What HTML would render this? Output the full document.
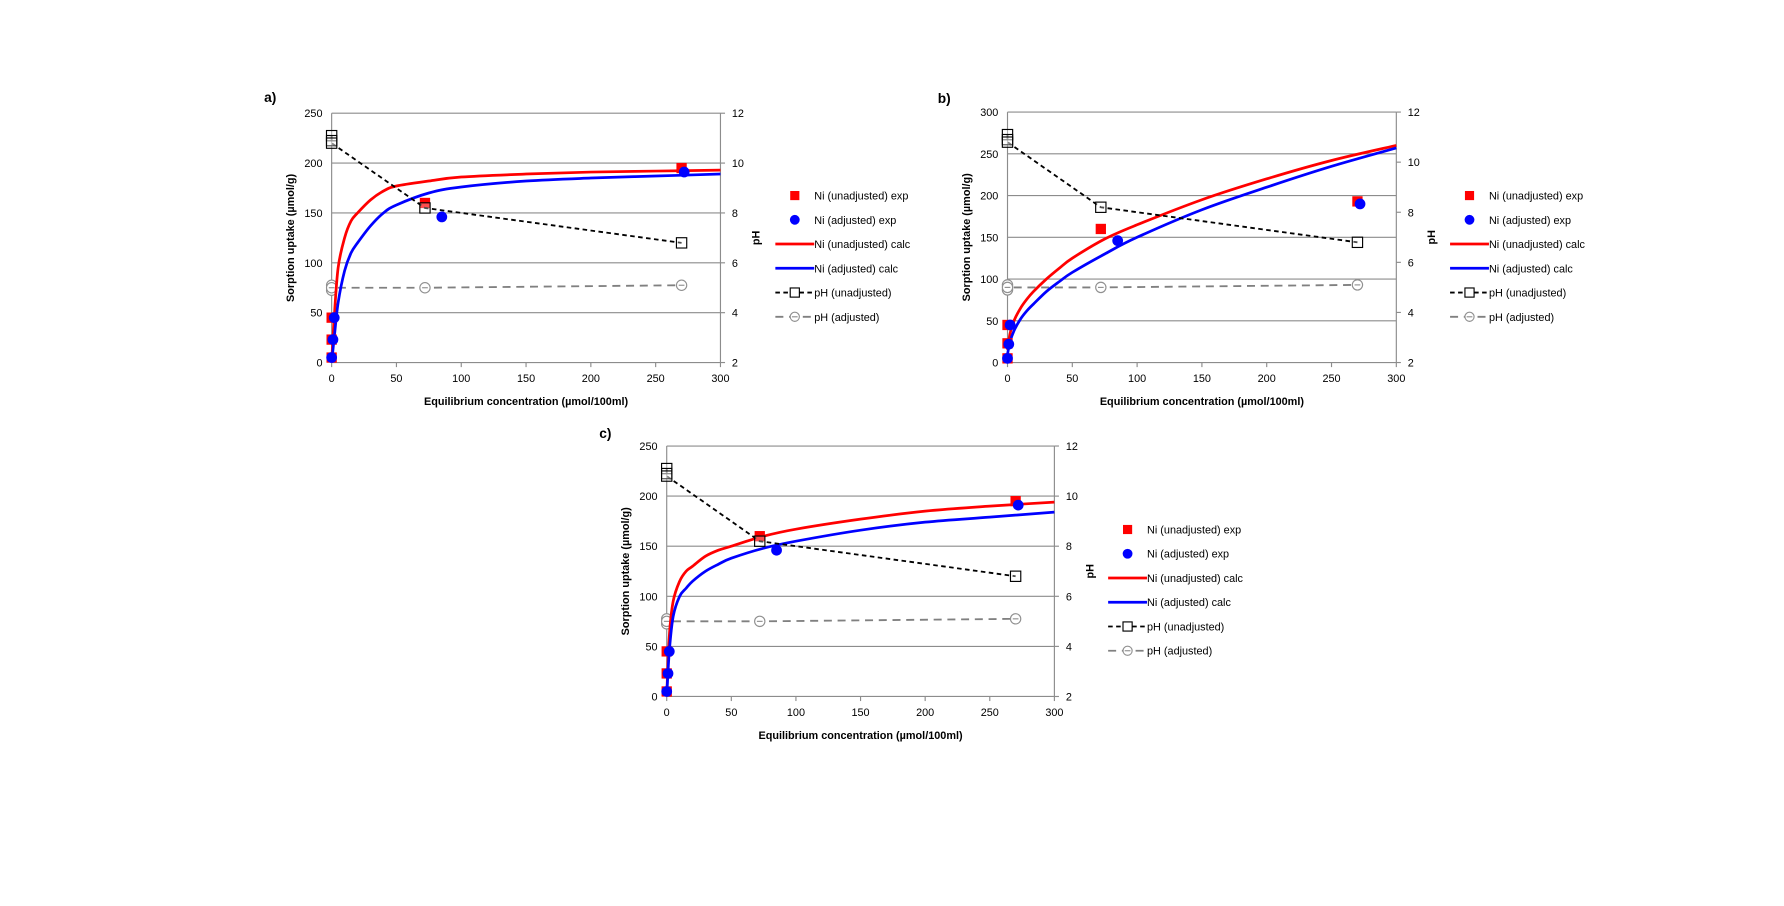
<!DOCTYPE html>
<html><head><meta charset="utf-8"><style>
html,body{margin:0;padding:0;background:#fff}
svg{display:block}
text{font-family:"Liberation Sans",sans-serif;fill:#000}
</style></head><body>
<svg id="fig" width="1784" height="906" viewBox="0 0 1560 792.2" preserveAspectRatio="none" xmlns="http://www.w3.org/2000/svg"></svg>
<script>
// ---- data (shared measured points) ----
const expX_unadj = [0, 0, 0, 72, 270];
const expX_adj = [0, 1, 2, 85, 272];
const pHX_unadj = [0, 0, 0, 72, 270];
const pHY_unadj = [11.1, 10.9, 10.8, 8.2, 6.8];
const pHX_adj = [0, 0, 0, 72, 270];
const pHY_adj = [5.1, 4.9, 5.0, 5.0, 5.1];
const xTicks = [0, 50, 100, 150, 200, 250, 300];
const pHTicks = [2, 4, 6, 8, 10, 12];
const calcX = [0, 2, 5, 10, 15, 20, 30, 40, 50, 75, 100, 150, 200, 250, 300];
// chart a
const aYTicks = [0, 50, 100, 150, 200, 250];
const aExpUnadj = [5, 23, 45, 160, 195];
const aExpAdj = [5, 23, 45, 146, 191];
const aCalcUnadj = [0, 45, 95, 125, 142, 150, 163, 172, 177, 182, 186, 189, 191, 192, 193];
const aCalcAdj = [0, 25, 60, 92, 110, 120, 137, 150, 158, 170, 176, 182, 185, 187, 189];
// chart b
const bYTicks = [0, 50, 100, 150, 200, 250, 300];
const bExpUnadj = [5, 23, 45, 160, 193];
const bExpAdj = [5, 22, 45, 146, 190];
const bCalcUnadj = [15, 35, 50, 65, 76, 85, 100, 113, 125, 148, 165, 195, 220, 242, 260];
const bCalcAdj = [10, 25, 38, 52, 62, 70, 85, 97, 108, 130, 150, 183, 210, 235, 257];
// chart c
const cYTicks = [0, 50, 100, 150, 200, 250];
const cExpUnadj = [5, 23, 45, 160, 195];
const cExpAdj = [5, 23, 45, 146, 191];
const cCalcUnadj = [0, 60, 95, 115, 125, 130, 140, 146, 150, 160, 167, 177, 185, 190, 194];
const cCalcAdj = [0, 45, 80, 100, 108, 115, 125, 132, 138, 148, 155, 166, 174, 179, 184];

const NS = "http://www.w3.org/2000/svg";
const svg = document.getElementById('fig');
function el(tag, attrs, parent, txt) {
  const e = document.createElementNS(NS, tag);
  for (const k in attrs) e.setAttribute(k, attrs[k]);
  if (txt !== undefined) e.textContent = txt;
  (parent || svg).appendChild(e);
  return e;
}
function smooth(pts) {
  let d = 'M' + pts[0][0] + ',' + pts[0][1];
  for (let i = 0; i < pts.length - 1; i++) {
    const p0 = pts[Math.max(0, i - 1)], p1 = pts[i], p2 = pts[i + 1], p3 = pts[Math.min(pts.length - 1, i + 2)];
    const c1x = p1[0] + (p2[0] - p0[0]) / 6, c1y = p1[1] + (p2[1] - p0[1]) / 6;
    const c2x = p2[0] - (p3[0] - p1[0]) / 6, c2y = p2[1] - (p3[1] - p1[1]) / 6;
    d += ` C${c1x},${c1y} ${c2x},${c2y} ${p2[0]},${p2[1]}`;
  }
  return d;
}

function chart(id, cfg, yTicks, expU, expA, calcU, calcA) {
  const g = el('g', {}, svg);
  
  
  const {x0, x1, y0, y1} = cfg;
  const yMax = yTicks[yTicks.length - 1];
  const X = v => x0 + (v / 300) * (x1 - x0);
  const Y = v => y0 - (v / yMax) * (y0 - y1);
  const P = v => y0 - ((v - 2) / 10) * (y0 - y1);

  const lab = el('text', {x: cfg.lx, y: cfg.ly, 'font-size': 12, 'font-weight': 'bold'}, g, id + ')');
  
  

  yTicks.forEach(t => {
    const gl = el('line', {x1: x0, x2: x1, y1: Y(t), y2: Y(t), stroke: '#8c8c8c', 'stroke-width': 1}, g);
    
    
    const tl = el('text', {x: x0 - 8, y: Y(t) + 3.5, 'font-size': 9.5, 'text-anchor': 'end'}, g, t);
    
    
  });
  el('line', {x1: x0, x2: x0, y1: y1, y2: y0, stroke: '#8c8c8c'}, g);
  const ra = el('line', {x1: x1, x2: x1, y1: y1, y2: y0, stroke: '#8c8c8c'}, g);
  
  
  pHTicks.forEach(t => {
    el('line', {x1: x1, x2: x1 + 4, y1: P(t), y2: P(t), stroke: '#8c8c8c'}, g);
    const tl = el('text', {x: x1 + 10, y: P(t) + 3.5, 'font-size': 9.5}, g, t);
    
    
  });
  xTicks.forEach(t => {
    el('line', {x1: X(t), x2: X(t), y1: y0, y2: y0 + 4, stroke: '#8c8c8c'}, g);
    const tl = el('text', {x: X(t), y: y0 + 17, 'font-size': 9.5, 'text-anchor': 'middle'}, g, t);
    
    
  });
  const xt = el('text', {x: (x0 + x1) / 2, y: y0 + 37, 'font-size': 9.5, 'font-weight': 'bold', 'text-anchor': 'middle'}, g, 'Equilibrium concentration (µmol/100ml)');
  
  
  const yc = (y0 + y1) / 2;
  const yt = el('text', {x: 0, y: 0, 'font-size': 9.5, 'font-weight': 'bold', 'text-anchor': 'middle', transform: `translate(${x0 - 33},${yc}) rotate(-90)`}, g, 'Sorption uptake (µmol/g)');
  
  
  const pt = el('text', {x: 0, y: 0, 'font-size': 9.5, 'font-weight': 'bold', 'text-anchor': 'middle', transform: `translate(${x1 + 34},${yc}) rotate(-90)`}, g, 'pH');
  
  

  const pa = el('polyline', {points: pHX_adj.map((x, i) => X(x) + ',' + P(pHY_adj[i])).join(' '), fill: 'none', stroke: '#808080', 'stroke-width': 1.6, 'stroke-dasharray': '7,5'}, g);
  
  
  pHX_adj.forEach((x, i) => {
    const c = el('circle', {cx: X(x), cy: P(pHY_adj[i]), r: 4.5, fill: '#fff', stroke: '#909090', 'stroke-width': 1}, g);
    
    
    el('line', {x1: X(x) - 2.5, x2: X(x) + 2.5, y1: P(pHY_adj[i]), y2: P(pHY_adj[i]), stroke: '#909090'}, g);
  });
  const cu = el('path', {d: smooth(calcX.map((x, i) => [X(x), Y(calcU[i])])), fill: 'none', stroke: '#ff0000', 'stroke-width': 2.4, 'stroke-linejoin': 'round'}, g);
  
  
  const ca = el('path', {d: smooth(calcX.map((x, i) => [X(x), Y(calcA[i])])), fill: 'none', stroke: '#0000ff', 'stroke-width': 2.4, 'stroke-linejoin': 'round'}, g);
  
  
  expX_unadj.forEach((x, i) => {
    const r = el('rect', {x: X(x) - 4.5, y: Y(expU[i]) - 4.5, width: 9, height: 9, fill: '#ff0000'}, g);
    
    
  });
  expX_adj.forEach((x, i) => {
    const c = el('circle', {cx: X(x), cy: Y(expA[i]), r: 4.7, fill: '#0000ff'}, g);
    
    
  });
  const pu = el('polyline', {points: pHX_unadj.map((x, i) => X(x) + ',' + P(pHY_unadj[i])).join(' '), fill: 'none', stroke: '#000', 'stroke-width': 1.6, 'stroke-dasharray': '4,3'}, g);
  
  
  pHX_unadj.forEach((x, i) => {
    const r = el('rect', {x: X(x) - 4.5, y: P(pHY_unadj[i]) - 4.5, width: 9, height: 9, fill: '#fff', 'fill-opacity': 0.3, stroke: '#000', 'stroke-width': 1}, g);
    
    
  });

  const lg = el('g', {}, g);
  
  
  const names = ['Ni (unadjusted) exp', 'Ni (adjusted) exp', 'Ni (unadjusted) calc', 'Ni (adjusted) calc', 'pH (unadjusted)', 'pH (adjusted)'];
  const mx = cfg.legX, ty = cfg.legY;
  names.forEach((n, i) => {
    const yy = ty + i * 21.2;
    const e = el('g', {}, lg);
    
    
    if (i === 0) el('rect', {x: mx - 4, y: yy - 4, width: 8, height: 8, fill: '#f00'}, e);
    if (i === 1) el('circle', {cx: mx, cy: yy, r: 4.3, fill: '#00f'}, e);
    if (i === 2) el('line', {x1: mx - 17, x2: mx + 17, y1: yy, y2: yy, stroke: '#f00', 'stroke-width': 2.4}, e);
    if (i === 3) el('line', {x1: mx - 17, x2: mx + 17, y1: yy, y2: yy, stroke: '#00f', 'stroke-width': 2.4}, e);
    if (i === 4) { el('line', {x1: mx - 17, x2: mx + 17, y1: yy, y2: yy, stroke: '#000', 'stroke-width': 1.6, 'stroke-dasharray': '4,3'}, e);
      el('rect', {x: mx - 4, y: yy - 4, width: 8, height: 8, fill: '#fff', stroke: '#000'}, e); }
    if (i === 5) { el('line', {x1: mx - 17, x2: mx + 17, y1: yy, y2: yy, stroke: '#808080', 'stroke-width': 1.6, 'stroke-dasharray': '7,5'}, e);
      el('circle', {cx: mx, cy: yy, r: 4, fill: '#fff', stroke: '#909090'}, e);
      el('line', {x1: mx - 2.5, x2: mx + 2.5, y1: yy, y2: yy, stroke: '#909090'}, e); }
    el('text', {x: mx + 17, y: yy + 3.5, 'font-size': 9.5}, e, n);
  });
}

chart('a', {x0: 290, x1: 630, y0: 317, y1: 99, lx: 231, ly: 89, legX: 695, legY: 171}, aYTicks, aExpUnadj, aExpAdj, aCalcUnadj, aCalcAdj);
chart('b', {x0: 881, x1: 1221, y0: 317, y1: 98, lx: 820, ly: 90, legX: 1285, legY: 171}, bYTicks, bExpUnadj, bExpAdj, bCalcUnadj, bCalcAdj);
chart('c', {x0: 583, x1: 922, y0: 609, y1: 390, lx: 524, ly: 383, legX: 986, legY: 463}, cYTicks, cExpUnadj, cExpAdj, cCalcUnadj, cCalcAdj);
</script>
</body></html>
